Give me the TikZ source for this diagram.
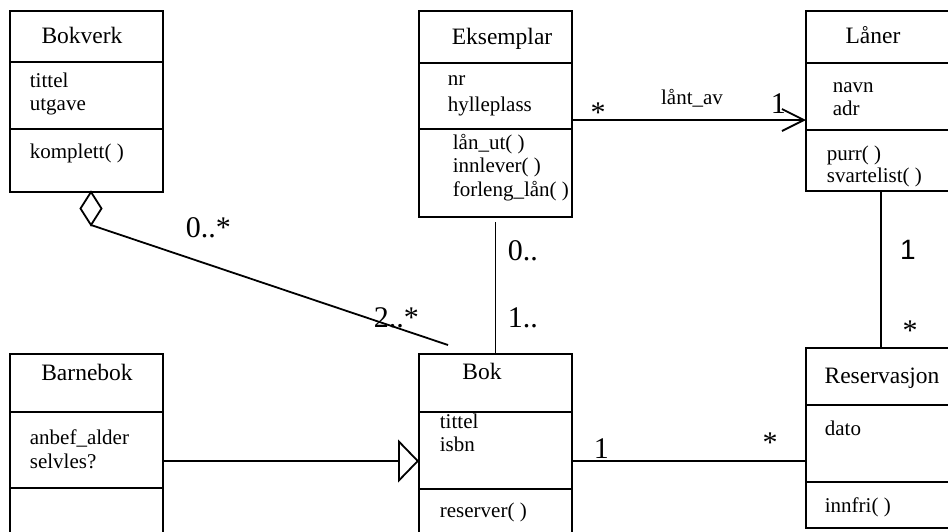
\documentclass[tikz,border=0pt]{standalone}
\usepackage{fontspec}
\setmainfont{Liberation Serif}
\newfontfamily\sansfam{Liberation Sans}
\usetikzlibrary{positioning, arrows.meta, shapes.geometric}

\tikzset{
  compart/.style={draw, rectangle, anchor=north west, inner sep=0pt, outer sep=0pt, minimum width=153pt},
  classname/.style={font=\fontsize{23.5}{26}\selectfont, inner sep=0pt, anchor=base},
  members/.style={font=\fontsize{21}{23}\selectfont, inner sep=0pt, anchor=base west, align=left},
  mult/.style={font=\fontsize{30}{32}\selectfont, inner sep=0pt, anchor=base west},
  star/.style={font=\fontsize{30}{32}\selectfont, inner sep=0pt},
}

\begin{document}
\begin{tikzpicture}[x=1pt, y=-1pt, line width=1.8pt]
\useasboundingbox (0,0) rectangle (948,531);

% classes
\node[compart, minimum height=51pt] (bokverk) at (10,11) {};
\node[compart, minimum height=67pt] (bokverk-a) at (bokverk.south west) {};
\node[compart, minimum height=63pt] (bokverk-m) at (bokverk-a.south west) {};

\node[compart, minimum height=52pt] (eksemplar) at (419,11) {};
\node[compart, minimum height=66pt] (eksemplar-a) at (eksemplar.south west) {};
\node[compart, minimum height=88pt] (eksemplar-m) at (eksemplar-a.south west) {};

\node[compart, minimum width=150pt, minimum height=52pt] (laaner) at (806,11) {};
\node[compart, minimum width=150pt, minimum height=67pt] (laaner-a) at (laaner.south west) {};
\node[compart, minimum width=150pt, minimum height=61pt] (laaner-m) at (laaner-a.south west) {};

\node[compart, minimum height=58pt] (barnebok) at (10,354) {};
\node[compart, minimum height=76pt] (barnebok-a) at (barnebok.south west) {};
\node[compart, minimum height=60pt] (barnebok-m) at (barnebok-a.south west) {};

\node[compart, minimum height=58pt] (bok) at (419,354) {};
\node[compart, minimum height=77pt] (bok-a) at (bok.south west) {};
\node[compart, minimum height=60pt] (bok-m) at (bok-a.south west) {};

\node[compart, minimum width=150pt, minimum height=57pt] (reservasjon) at (806,348) {};
\node[compart, minimum width=150pt, minimum height=77pt] (reservasjon-a) at (reservasjon.south west) {};
\node[compart, minimum width=150pt, minimum height=46pt] (reservasjon-m) at (reservasjon-a.south west) {};

% names and members (base = last line)
\node[classname] (bokverk-n) at (82,43) {Bokverk};
\node[members] (bokverk-at) at (29,110) {tittel\\utgave};
\node[members] (bokverk-op) at (29,158) {komplett( )};

\node[classname] (eksemplar-n) at (502,44) {Eksemplar};
\node[members, font=\fontsize{21}{26}\selectfont] (eksemplar-at) at (447,111) {nr\\hylleplass};
\node[members, font=\fontsize{21}{23.5}\selectfont] (eksemplar-op) at (452,196) {lån\_ut( )\\innlever( )\\forleng\_lån( )};

\node[classname] (laaner-n) at (873,43) {Låner};
\node[members] (laaner-at) at (832,115) {navn\\adr};
\node[members, font=\fontsize{21}{22}\selectfont] (laaner-op) at (826,182) {purr( )\\svartelist( )};

\node[classname] (barnebok-n) at (87,380) {Barnebok};
\node[members, font=\fontsize{21}{24}\selectfont] (barnebok-at) at (29,468) {anbef\_alder\\selvles?};

\node[classname] (bok-n) at (482,379) {Bok};
\node[members] (bok-at) at (439,451) {tittel\\isbn};
\node[members] (bok-op) at (439,517) {reserver( )};

\node[classname] (reservasjon-n) at (882,383) {Reservasjon};
\node[members] (reservasjon-at) at (824,435) {dato};
\node[members] (reservasjon-op) at (824,512) {innfri( )};

% lånt_av
\coordinate (lent) at ([yshift=-24pt]eksemplar-a.east);
\draw[-{Straight Barb[length=22pt,width=22pt]}] (lent) -- (lent -| laaner-a.west);
\node[star] (lent-m1) at (598,113) {*};
\node[members, anchor=base] (lent-lbl) at (692,104) {lånt\_av};
\node[mult] (lent-m2) at (770,113) {1};

% aggregering
\node[diamond, draw, fill=white, inner sep=0pt, outer sep=0pt, minimum width=21pt, minimum height=33pt,
  below=0pt of bokverk-m.south, xshift=4.5pt] (agg) {};
\coordinate (agg-end) at ([shift={(29pt,9pt)}]bok.north west);
\draw (agg.south) -- (agg-end);
\node[mult] (agg-m1) at (185,237) {0..*};
\node[mult] (agg-m2) at (373,327) {2..*};

% eksemplar - bok
\coordinate (eks-end) at ([yshift=-5pt]eksemplar-m.south);
\draw (bok.north) -- (bok.north |- eks-end);
\node[mult] (eks-m1) at (507,260) {0..};
\node[mult] (eks-m2) at (507,327) {1..};

% laaner - reservasjon
\draw (laaner-m.south) -- (reservasjon.north);
\node[font=\sansfam\fontsize{28}{30}\selectfont, inner sep=0pt] (res-m1) at (908,250) {1};
\node[star] (res-m2) at (910,331) {*};

% bok - reservasjon
\coordinate (res-line) at ([yshift=-10.5pt]bok-a.east);
\draw (res-line) -- (res-line -| reservasjon-a.west);
\node[mult] (bres-m1) at (593,458) {1};
\node[star] (bres-m2) at (770,443) {*};

% arv
\coordinate (gen-line) at ([yshift=-11pt]barnebok-a.east);
\draw[-{Triangle[open,length=21pt,width=43pt]}] (gen-line) -- (gen-line -| bok-a.west);

\end{tikzpicture}
\end{document}
